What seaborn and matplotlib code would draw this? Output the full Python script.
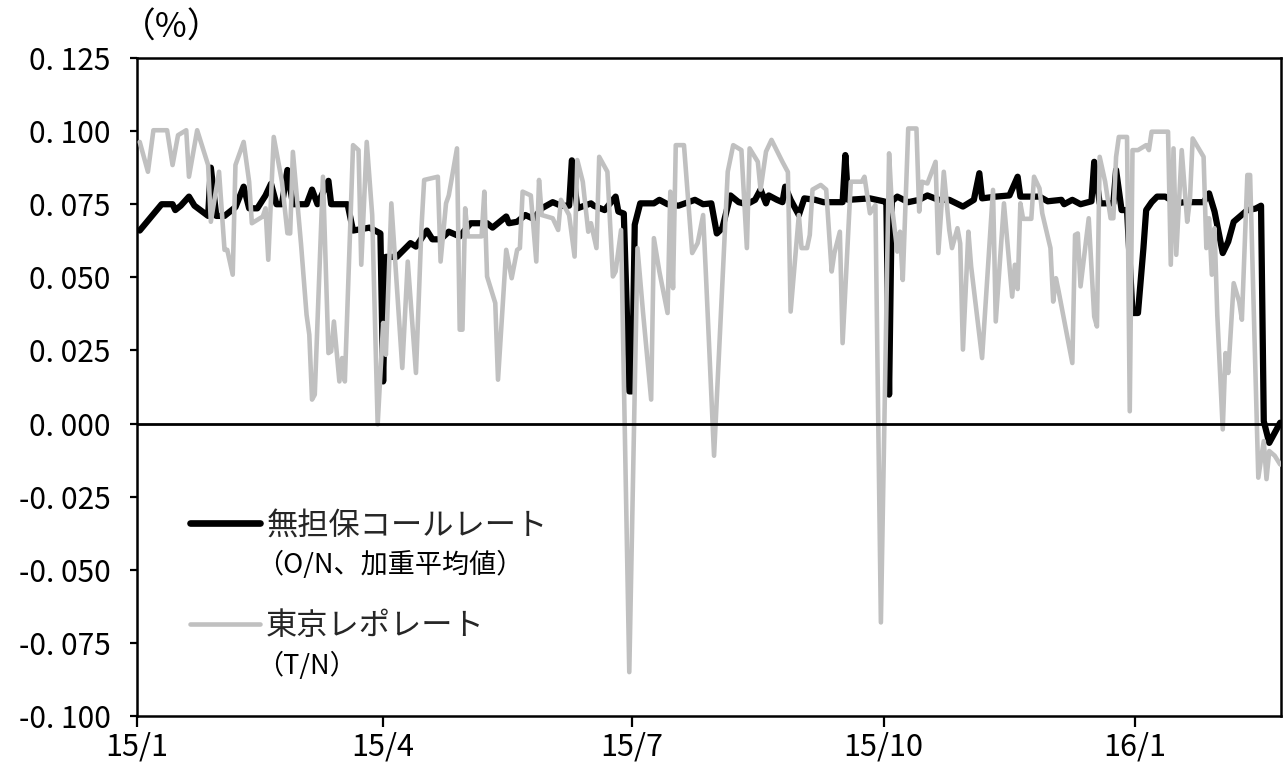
import numpy as np
import pandas as pd
import matplotlib
matplotlib.use("Agg")
import matplotlib.pyplot as plt
import seaborn as sns
from matplotlib.lines import Line2D

# ---------------- data (days counted from 2015-01-01) ----------------
call_days = [1, 9, 13, 14, 16, 19, 21, 26, 27, 29,
             32, 36, 39, 41, 44, 47, 49, 51, 53, 55,
             57, 62, 64, 66, 70, 71, 77, 79, 85, 89,
             90, 91, 95, 100, 102, 106, 108, 111, 114, 118,
             122, 128, 130, 135, 136, 139, 142, 145, 148, 152,
             155, 158, 159, 161, 166, 167, 171, 175, 176, 178,
             180, 181, 182, 184, 189, 191, 194, 198, 204, 207,
             210, 212, 214, 217, 220, 223, 226, 228, 230, 231,
             234, 236, 237, 239, 242, 244, 248, 251, 258, 259,
             260, 268, 273, 274, 275, 276, 278, 282, 286, 289,
             293, 297, 302, 306, 308, 309, 314, 319, 322, 323,
             330, 333, 338, 339, 342, 345, 349, 350, 352, 357,
             358, 360, 362, 364, 366, 368, 369, 371, 373, 376,
             380, 383, 390, 392, 394, 397, 399, 401, 406, 409,
             411, 412, 414, 418]
call_vals = [0.066, 0.075, 0.075, 0.073, 0.0745, 0.0776, 0.0745, 0.071, 0.0875, 0.071,
             0.071, 0.074, 0.081, 0.0736, 0.0736, 0.078, 0.082, 0.075, 0.075, 0.0867,
             0.075, 0.075, 0.080, 0.075, 0.083, 0.075, 0.075, 0.066, 0.067, 0.065,
             0.0144, 0.057, 0.057, 0.0617, 0.0605, 0.066, 0.063, 0.063, 0.0656, 0.064,
             0.0685, 0.0685, 0.067, 0.0708, 0.0685, 0.069, 0.0713, 0.070, 0.0736, 0.0757,
             0.0745, 0.0745, 0.090, 0.0736, 0.0753, 0.0745, 0.073, 0.0776, 0.0725, 0.0718,
             0.011, 0.011, 0.068, 0.0753, 0.0753, 0.0765, 0.075, 0.0745, 0.0765, 0.075,
             0.0753, 0.065, 0.0668, 0.078, 0.0757, 0.075, 0.0765, 0.080, 0.0753, 0.078,
             0.0765, 0.0757, 0.081, 0.0765, 0.0713, 0.077, 0.0765, 0.0757, 0.0757, 0.0918,
             0.0765, 0.077, 0.076, 0.0757, 0.0099, 0.076, 0.0776, 0.0757, 0.0765, 0.078,
             0.0765, 0.0765, 0.0742, 0.0765, 0.0856, 0.077, 0.0776, 0.078, 0.0844, 0.0776,
             0.0776, 0.076, 0.0765, 0.075, 0.0765, 0.075, 0.076, 0.0895, 0.0753, 0.0753,
             0.0867, 0.073, 0.073, 0.0378, 0.0378, 0.060, 0.073, 0.0757, 0.0776, 0.0776,
             0.0753, 0.0757, 0.0757, 0.0787, 0.0725, 0.0583, 0.0622, 0.069, 0.073, 0.0735,
             0.0745, 0.0008, -0.0066, 0.0003]

repo_days = [1, 4, 6, 11, 13, 15, 18, 19, 22, 26,
             27, 30, 32, 33, 35, 36, 39, 41, 42, 46,
             47, 48, 50, 53, 55, 56, 57, 60, 62, 63,
             64, 65, 68, 70, 71, 72, 74, 75, 76, 79,
             81, 82, 84, 86, 88, 90, 91, 93, 97, 99,
             102, 104, 105, 110, 111, 113, 114, 117, 118, 119,
             120, 121, 126, 127, 128, 131, 132, 135, 137, 139,
             140, 141, 144, 146, 147, 148, 152, 154, 155, 158,
             160, 161, 163, 165, 166, 168, 169, 172, 174, 175,
             177, 180, 183, 185, 188, 189, 191, 194, 195, 196,
             197, 200, 203, 205, 207, 208, 211, 216, 218, 221,
             223, 224, 227, 228, 230, 232, 236, 238, 239, 242,
             243, 245, 246, 247, 250, 252, 254, 255, 257, 258,
             261, 265, 266, 268, 270, 272, 275, 276, 278, 279,
             280, 282, 285, 286, 287, 289, 292, 293, 295, 297,
             298, 300, 301, 302, 304, 305, 309, 313, 314, 317,
             320, 321, 322, 323, 324, 327, 328, 330, 331, 334,
             335, 336, 337, 342, 343, 344, 345, 348, 350, 351,
             352, 354, 356, 357, 358, 359, 362, 363, 364, 366,
             369, 370, 371, 377, 378, 379, 380, 382, 384, 385,
             386, 390, 391, 392, 393, 394, 395, 397, 398, 399,
             401, 403, 404, 406, 407, 409, 410, 412, 413, 414,
             416, 418]
repo_vals = [0.0963, 0.0861, 0.1003, 0.1003, 0.0884, 0.0986, 0.1003, 0.0844, 0.1003, 0.0884,
             0.069, 0.0861, 0.0594, 0.0594, 0.0509, 0.0884, 0.0963, 0.0827, 0.0685, 0.0708,
             0.0736, 0.056, 0.098, 0.0827, 0.0651, 0.065, 0.0929, 0.0611, 0.0372, 0.0304,
             0.0082, 0.0099, 0.0844, 0.0241, 0.0247, 0.0349, 0.0144, 0.0224, 0.0144, 0.0952,
             0.0935, 0.0543, 0.0963, 0.0713, -0.0003, 0.0344, 0.0235, 0.0753, 0.019, 0.0554,
             0.0173, 0.0668, 0.0833, 0.0844, 0.0554, 0.0753, 0.078, 0.0941, 0.0321, 0.0321,
             0.0736, 0.064, 0.064, 0.0793, 0.0503, 0.0412, 0.015, 0.0594, 0.0497, 0.0594,
             0.060, 0.0793, 0.078, 0.0554, 0.0833, 0.0713, 0.0702, 0.0662, 0.0765, 0.0713,
             0.0571, 0.0901, 0.0827, 0.0656, 0.0685, 0.060, 0.0912, 0.0861, 0.0503, 0.052,
             0.0662, -0.085, 0.060, 0.0383, 0.0082, 0.0634, 0.052, 0.0378, 0.0793, 0.0463,
             0.0952, 0.0952, 0.0583, 0.0617, 0.0713, 0.0514, -0.011, 0.0861, 0.0952, 0.0935,
             0.060, 0.0941, 0.0895, 0.080, 0.093, 0.097, 0.0895, 0.086, 0.0383, 0.0713,
             0.060, 0.060, 0.0645, 0.080, 0.0816, 0.080, 0.052, 0.0583, 0.0656, 0.0275,
             0.0827, 0.0827, 0.0844, 0.0719, 0.0747, -0.068, 0.0924, 0.0747, 0.0588, 0.0656,
             0.0491, 0.1009, 0.1009, 0.0725, 0.0827, 0.0821, 0.0895, 0.0583, 0.0861, 0.0662,
             0.060, 0.0668, 0.0616, 0.0253, 0.0656, 0.0537, 0.0224, 0.0799, 0.0349, 0.0753,
             0.0434, 0.0543, 0.046, 0.0753, 0.070, 0.070, 0.0844, 0.0804, 0.0719, 0.060,
             0.0417, 0.0497, 0.0452, 0.0207, 0.0645, 0.065, 0.0469, 0.0702, 0.0366, 0.0332,
             0.0912, 0.0827, 0.0702, 0.0702, 0.0912, 0.098, 0.098, 0.0042, 0.0935, 0.0935,
             0.0952, 0.0935, 0.0998, 0.0998, 0.0543, 0.0941, 0.0577, 0.0935, 0.069, 0.0765,
             0.0975, 0.0912, 0.060, 0.0702, 0.0509, 0.0668, 0.0372, -0.002, 0.0241, 0.0173,
             0.048, 0.0417, 0.0355, 0.085, 0.085, 0.0167, -0.0185, -0.006, -0.019, -0.0094,
             -0.011, -0.014]

series_labels = ["無担保コールレート", "東京レポレート"]
series_sublabels = ["（O/N、加重平均値）", "（T/N）"]
xtick_dates = ["2015-01-01", "2015-04-01", "2015-07-01", "2015-10-01", "2016-01-01"]
xtick_labels = ["15/1", "15/4", "15/7", "15/10", "16/1"]
yticks = [-0.100, -0.075, -0.050, -0.025, 0.000, 0.025, 0.050, 0.075, 0.100, 0.125]
unit_label = "（%）"

# ---------------- plot ----------------
sns.set_theme(style="white")
plt.rcParams['font.family'] = ['Noto Sans CJK JP', 'DejaVu Sans']

base = pd.Timestamp("2015-01-01")
call_df = pd.DataFrame({"date": base + pd.to_timedelta(call_days, unit="D"), "rate": call_vals})
repo_df = pd.DataFrame({"date": base + pd.to_timedelta(repo_days, unit="D"), "rate": repo_vals})

fig = plt.figure(figsize=(12.83, 7.71), dpi=100)
ax = fig.add_axes([137 / 1283, 55 / 771, 1144 / 1283, 658 / 771])

black = "#000000"
grey = "#c0c0c0"
sns.lineplot(data=call_df, x="date", y="rate", color=black, linewidth=4.5, ax=ax,
             legend=False, zorder=3)
sns.lineplot(data=repo_df, x="date", y="rate", color=grey, linewidth=3.3, ax=ax,
             legend=False, zorder=4)
ax.axhline(0, color=black, linewidth=2.0, zorder=5)

ax.set_xlim(base, base + pd.Timedelta(days=418.3))
ax.set_ylim(-0.100, 0.125)
ax.set_xticks(pd.to_datetime(xtick_dates))
ax.set_xticklabels(xtick_labels)
ax.set_yticks(yticks)
ax.set_yticklabels([f"{v:.3f}".replace(".", ". ") for v in yticks])
ax.set_xlabel("")
ax.set_ylabel("")

for s in ax.spines.values():
    s.set_visible(True)
    s.set_color(black)
    s.set_linewidth(1.8)

ax.tick_params(axis="y", left=True, direction="out", length=5, width=1.6,
               pad=14, labelsize=21.5, colors=black)
ax.tick_params(axis="x", bottom=True, direction="out", length=8, width=1.6,
               pad=3, labelsize=22, colors=black)

fig.text(172 / 1283, 1 - 28 / 771, unit_label, ha="center", va="center",
         fontsize=25, color=black)

handles = [Line2D([], [], color=black, linewidth=4.8),
           Line2D([], [], color=grey, linewidth=3.3)]
leg = ax.legend(handles, series_labels, loc="upper left",
                bbox_to_anchor=(0.046, 0.314), frameon=False, fontsize=22.5,
                handlelength=2.25, handletextpad=0.2, labelspacing=2.19,
                borderaxespad=0, borderpad=0)
leg.set_zorder(8)
fig.canvas.draw()
for txt, sub in zip(leg.get_texts(), series_sublabels):
    ax.annotate(sub, xy=(0, 0), xycoords=txt, xytext=(-7, -7),
                textcoords="offset points", va="top", ha="left",
                fontsize=19.5, color=black, zorder=10)

fig.savefig("out.png", dpi=100)
